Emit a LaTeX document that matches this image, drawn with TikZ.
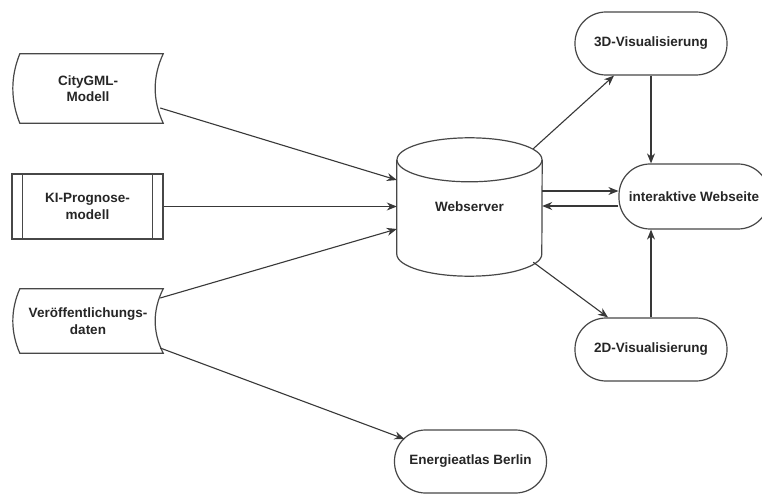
\documentclass[tikz,border=0pt]{standalone}
\usepackage{fontspec}
\setmainfont{Liberation Sans}
\usetikzlibrary{arrows.meta}
\begin{document}
\begin{tikzpicture}[x=1pt,y=1pt,
  every node/.style={font=\bfseries\fontsize{13.5}{16.5}\selectfont, text=black!85, align=center, inner sep=0pt},
  shapeline/.style={draw=black!72, line width=1.2pt},
  term/.style={shapeline, rounded corners=31pt, minimum width=152pt, minimum height=63pt},
  conn/.style={draw=black!78, line width=1.1pt, -{Stealth[length=10pt,width=8pt]}},
]
\clip (0,0) rectangle (762,493);
\fill[white] (0,0) rectangle (762,493);

% nodes
\node[minimum width=150pt, minimum height=69pt] (city) at (88,404.5) {CityGML-\\Modell};
\node[shapeline, minimum width=151pt, minimum height=65pt] (ki) at (87.5,286.5) {KI-Prognose-\\modell};
\node[minimum width=150pt, minimum height=64pt] (ver) at (88,172) {Veröffentlichungs-\\daten};
\node[minimum width=145pt, minimum height=138pt] (web) at (469.5,286) {Webserver};
\node[term] (viz3) at (651,449.5) {3D-Visualisierung};
\node[term, minimum width=150pt, minimum height=65pt] (inter) at (694,296.5) {interaktive Webseite};
\node[term] (viz2) at (651,143.5) {2D-Visualisierung};
\node[term] (energie) at (470.5,31.5) {Energieatlas Berlin};

% stored data outlines
\draw[shapeline] ([xshift=7pt]city.north west) -- (city.north east)
  .. controls +(-10.7,-23) and +(-10.7,23) .. (city.south east)
  -- ([xshift=7pt]city.south west)
  .. controls +(-9.3,23) and +(-9.3,-23) .. cycle;
\draw[shapeline] ([xshift=7pt]ver.north west) -- (ver.north east)
  .. controls +(-10.7,-21.3) and +(-10.7,21.3) .. (ver.south east)
  -- ([xshift=7pt]ver.south west)
  .. controls +(-9.3,21.3) and +(-9.3,-21.3) .. cycle;

% process side bars
\draw[shapeline] ([xshift=11pt]ki.north west) -- ([xshift=11pt]ki.south west);
\draw[shapeline] ([xshift=-11pt]ki.north east) -- ([xshift=-11pt]ki.south east);

% cylinder
\draw[shapeline] ([yshift=-22pt]web.north west) -- ([yshift=22pt]web.south west)
  arc[start angle=180, end angle=360, x radius=72.5, y radius=22]
  -- ([yshift=-22pt]web.north east);
\draw[shapeline] ([yshift=-22pt]web.north) ellipse[x radius=72.5, y radius=22];

% connectors
\draw[conn] ([xshift=-3pt,yshift=-19.5pt]city.east) -- ([yshift=27pt]web.west);
\draw[conn] (ki.east) -- (ki.east -| web.west);
\draw[conn] ([xshift=-3pt,yshift=23pt]ver.east) -- ([yshift=-22pt]web.west);
\draw[conn] ([xshift=-3pt,yshift=-27pt]ver.east) -- ([xshift=10.5pt,yshift=22.5pt]energie.west);
\draw[conn] ([xshift=-9pt,yshift=-11pt]web.north east) -- ([xshift=-37pt]viz3.south);
\draw[conn] (viz3.south) -- (viz3.south |- inter.north);
\draw[conn] ([yshift=16pt]web.east) -- ([yshift=16pt]web.east -| inter.west);
\draw[conn] ([yshift=-9.5pt]inter.west) -- ([yshift=-9.5pt]inter.west -| web.east);
\draw[conn] ([xshift=-9pt,yshift=14pt]web.south east) -- ([xshift=-43pt]viz2.north);
\draw[conn] (viz2.north) -- (viz2.north |- inter.south);
\end{tikzpicture}
\end{document}
